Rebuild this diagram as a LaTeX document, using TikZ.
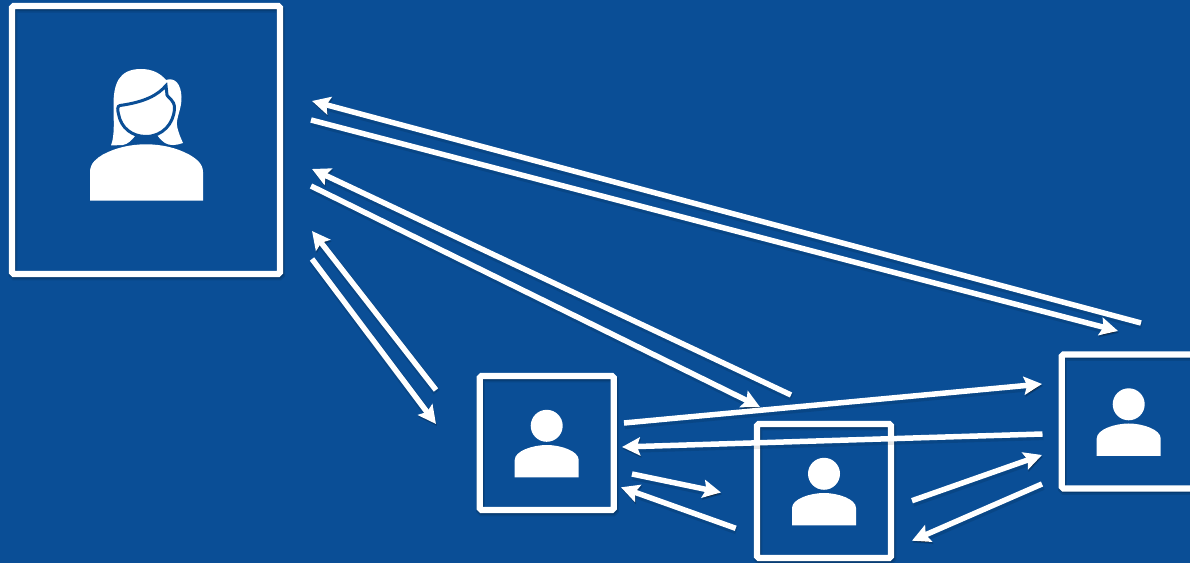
\documentclass[tikz,border=0pt]{standalone}
\usetikzlibrary{arrows.meta}
\definecolor{slidebg}{HTML}{0A4E96}

\begin{document}
\begin{tikzpicture}[
    x=0.02cm, y=-0.02cm,
    softshadow/.style={
      preaction={draw=black, draw opacity=.10, line width=#1+0.05cm,
        transform canvas={shift={(0.5pt,-1.2pt)}}},
      preaction={draw=black, draw opacity=.16, transform canvas={shift={(0.4pt,-0.9pt)}}}},
    softshadow/.default=0.11cm,
    userbox/.style={draw=white, line width=0.125cm, rounded corners=1pt, inner sep=0pt,
      minimum size=2.68cm, softshadow=0.125cm},
    msg/.style={draw=white, line width=0.11cm, softshadow,
      -{Stealth[length=0.36cm, width=0.36cm, inset=0.06cm]}},
    usericon/.pic={
      \fill[white] (0,-17.2) circle (16);
      \fill[white] (-32,34.3) -- (-32,17) .. controls (-32,8) and (-14,2) .. (0,2)
        .. controls (14,2) and (32,8) .. (32,17) -- (32,34.3) -- cycle;
    }
  ]
  \useasboundingbox (0,0) rectangle (1190,563);
  \clip (0,0) rectangle (1190,563);
  \fill[slidebg] (0,0) rectangle (1190,563);

  % boxes
  \node[userbox, minimum size=5.36cm] (lead) at (146,140) {};
  \node[userbox] (userA) at (546.7,443) {};
  \node[userbox] (userB) at (824,491) {};
  \node[userbox] (userC) at (1128.7,421.5) {};

  \pic at (userA) {usericon};
  \pic at (userB) {usericon};
  \pic at (userC) {usericon};

  % woman
  \fill[white] (90,200.7) -- (90,172) .. controls (90,163) and (97,158) .. (103,154.5)
    .. controls (115,148) and (130,144.3) .. (146,144.3)
    .. controls (162,144.3) and (177,148) .. (189,154.5)
    .. controls (195,158) and (203,163) .. (203,172) -- (203,200.7) -- cycle;
  \fill[white] (111,145.5) .. controls (115,135) and (113.5,120) .. (113.5,105)
    .. controls (113.5,85) and (118,69) .. (141,69)
    .. controls (152,69) and (160,73) .. (166,80)
    .. controls (175,77) and (181,84) .. (181.5,97)
    .. controls (182,108) and (176,118) .. (177,125)
    .. controls (178,133) and (181,138) .. (183,143)
    .. controls (176,145.5) and (170,146) .. (165,143)
    .. controls (161,140) and (159,138) .. (157,135) -- (135,136)
    .. controls (132,140) and (128,144) .. (123,145) -- cycle;
  \filldraw[fill=white, draw=slidebg, line width=0.06cm]
    (166,85.5) .. controls (158,95) and (145,102) .. (120,105.5)
    .. controls (117,106) and (117.5,110) .. (118.5,114)
    .. controls (121,128) and (132,136.5) .. (146,136.5)
    .. controls (162,136.5) and (174,124) .. (174.5,108)
    .. controls (174.5,100) and (168,98) .. (167,95) -- cycle;

  % free ends of the connectors
  \coordinate (leadC1) at (312,101);   \coordinate (userC1) at (1141,323);
  \coordinate (leadC2) at (311,120);   \coordinate (userC2) at (1118,331);
  \coordinate (leadB1) at (312,169);   \coordinate (userB1) at (791,395);
  \coordinate (leadB2) at (311,186);   \coordinate (userB2) at (760,407);
  \coordinate (leadA1) at (312,231);   \coordinate (userA1) at (436,390);
  \coordinate (leadA2) at (312,259);   \coordinate (userA2) at (436,424);
  \coordinate (acOut) at (624,423);    \coordinate (acIn) at (1042,384);
  \coordinate (caOut) at (1042.5,434); \coordinate (caIn) at (622,447);
  \coordinate (abOut) at (632,474);    \coordinate (abIn) at (721,492.5);
  \coordinate (baOut) at (735.7,528.3);\coordinate (baIn) at (621,487.3);
  \coordinate (bcOut) at (912,500.7);  \coordinate (bcIn) at (1042,455);
  \coordinate (cbOut) at (1042,484);   \coordinate (cbIn) at (912,540.7);

  \draw[msg] (userC1) -- (leadC1);
  \draw[msg] (leadC2) -- (userC2);
  \draw[msg] (userB1) -- (leadB1);
  \draw[msg] (leadB2) -- (userB2);
  \draw[msg] (userA1) -- (leadA1);
  \draw[msg] (leadA2) -- (userA2);
  \draw[msg] (acOut) -- (acIn);
  \draw[msg] (caOut) -- (caIn);
  \draw[msg] (abOut) -- (abIn);
  \draw[msg] (baOut) -- (baIn);
  \draw[msg] (bcOut) -- (bcIn);
  \draw[msg] (cbOut) -- (cbIn);
\end{tikzpicture}
\end{document}
